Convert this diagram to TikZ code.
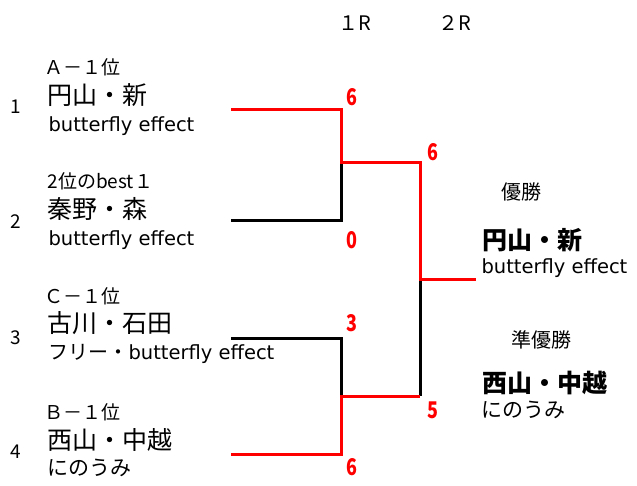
\documentclass[tikz,border=0pt]{standalone}
\usepackage{fontspec}
\setmainfont{Noto Sans CJK JP}
\newfontfamily\latin{DejaVu Sans}
\newfontfamily\narrow[FakeStretch=0.78]{Noto Sans CJK JP}
\usepackage{tikz}

\begin{document}
\begin{tikzpicture}[x=1pt,y=-1pt,
  seed/.style={anchor=west,font=\fontsize{19}{21}\selectfont},
  player/.style={anchor=west,font=\fontsize{25}{27}\selectfont},
  club/.style={anchor=west,font=\fontsize{19.5}{21}\selectfont\latin},
  kana/.style={anchor=west,font=\fontsize{21}{23}\selectfont},
  title/.style={font=\fontsize{20}{22}\selectfont},
  score/.style={red,font=\fontsize{23}{24}\selectfont\narrow\bfseries},
  won/.style={red,line width=3pt},
  lost/.style={black,line width=3pt}]
\useasboundingbox (0,0) rectangle (637,486);
\node [title] (r1) at (355,23) {１R};
\node [title] (r2) at (455,23) {２R};
% entries
\node [seed] (no1) at (16,107) [anchor=center] {1};
\node [seed] (s1) at (41,67) {Ａ－１位};
\node [player] (p1) at (44,95) {円山・新};
\node [club] (c1) at (45,126) {butterfly effect};
\node [seed] (no2) at (16,222) [anchor=center] {2};
\node [seed] (s2) at (44,181) {2位のbest１};
\node [player] (p2) at (44,209) {秦野・森};
\node [club] (c2) at (45,240) {butterfly effect};
\node [seed] (no3) at (16,338) [anchor=center] {3};
\node [seed] (s3) at (41,296) {Ｃ－１位};
\node [player] (p3) at (44,323) {古川・石田};
\node [club] (c3) at (45,354) {{\rmfamily\fontsize{20}{22}\selectfont フリー・}butterfly effect};
\node [seed] (no4) at (16,452) [anchor=center] {4};
\node [seed] (s4) at (41,412) {Ｂ－１位};
\node [player] (p4) at (44,440) {西山・中越};
\node [kana] (c4) at (44,468) {にのうみ};
% bracket
\coordinate (a1) at (231,110);
\coordinate (b1) at (341,110);
\coordinate (a2) at (231,221);
\coordinate (b2) at (341,221);
\coordinate (a3) at (231,338);
\coordinate (b3) at (341,338);
\coordinate (a4) at (231,454);
\coordinate (b4) at (341,454);
\coordinate (m1) at (341,163);
\coordinate (m2) at (341,396);
\coordinate (f1) at (420,163);
\coordinate (f2) at (420,396);
\coordinate (fm) at (420,280);
\coordinate (w) at (476,280);
\draw [lost] (a2) -- (b2) -- (m1);
\draw [lost] (a3) -- (b3) -- (m2);
\draw [lost] (fm) -- (f2);
\draw [won] (a1) -- (b1) -- (m1) -- (f1) -- (fm) -- (w);
\draw [won] (a4) -- (b4) -- (m2) -- (f2);
% scores
\node [score] (x1) at (352,97) {6};
\node [score] (x2) at (352,240) {0};
\node [score] (x3) at (352,323) {3};
\node [score] (x4) at (352,467) {6};
\node [score] (y1) at (433,152) {6};
\node [score] (y2) at (433,410) {5};
% result
\node [title] (champ) at (521,192) {優勝};
\node [player,font=\fontsize{25}{27}\selectfont\bfseries] (cp) at (479,240) {円山・新};
\node [club] (cc) at (478,268) {butterfly effect};
\node [title] (second) at (541,340) {準優勝};
\node [player,font=\fontsize{25}{27}\selectfont\bfseries] (sp) at (479,383) {西山・中越};
\node [kana] (sc) at (478,410) {にのうみ};
\end{tikzpicture}
\end{document}
